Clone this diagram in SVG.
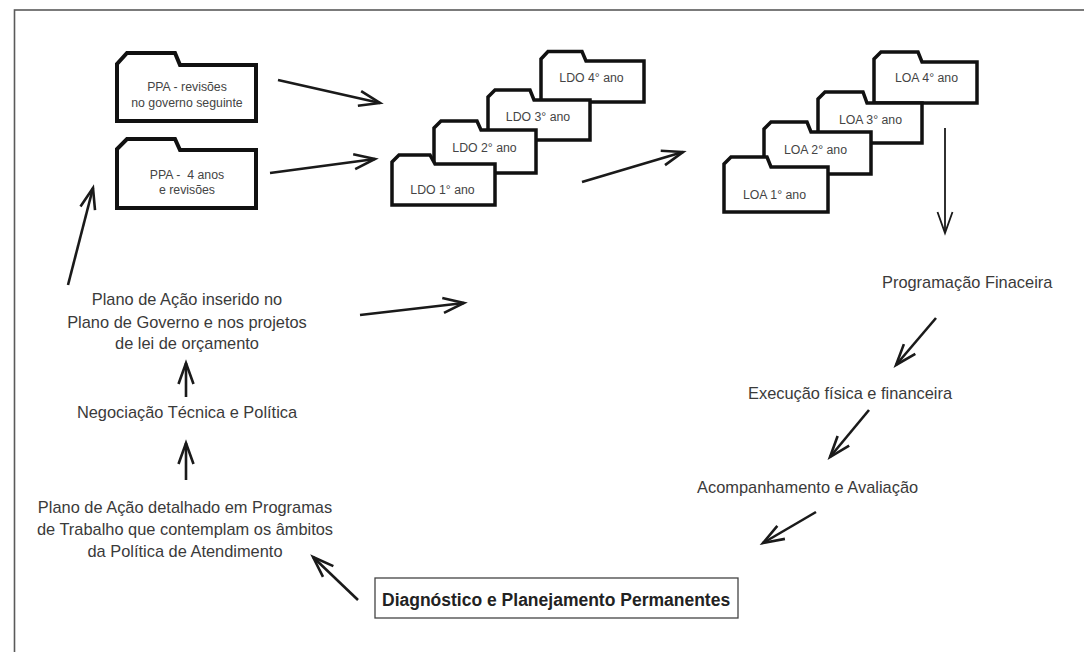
<svg xmlns="http://www.w3.org/2000/svg" width="1084" height="652" viewBox="0 0 1084 652">
<style>
.frame{fill:none;stroke:#5a5a5a;stroke-width:1.6}
.fold{fill:#fff;stroke:#111;stroke-width:3.5;stroke-linejoin:miter}
.ppa{stroke-width:4}
.ft{font-family:"Liberation Sans",Arial,sans-serif;font-size:12.3px;fill:#444;text-anchor:middle}
.t{font-family:"Liberation Sans",Arial,sans-serif;font-size:16.4px;fill:#3a3a3a}
.c{text-anchor:middle}
.b{font-family:"Liberation Sans",Arial,sans-serif;font-size:17.5px;font-weight:bold;fill:#222}
.box{fill:#fff;stroke:#444;stroke-width:1.3}
.ar{fill:none;stroke:#1a1a1a;stroke-width:2.6;marker-end:url(#h)}
.thin{stroke-width:1.8;marker-end:url(#h2)}
</style>
<defs>
<marker id="h" markerUnits="userSpaceOnUse" orient="auto" refX="0" refY="0" markerWidth="30" markerHeight="30" overflow="visible">
<path d="M-21,-7.5 L0,0 L-21,7.5" fill="none" stroke="#1a1a1a" stroke-width="2.6"/>
</marker>
<marker id="h2" markerUnits="userSpaceOnUse" orient="auto" refX="0" refY="0" markerWidth="30" markerHeight="30" overflow="visible">
<path d="M-21,-7.5 L0,0 L-21,7.5" fill="none" stroke="#1a1a1a" stroke-width="1.8"/>
</marker>
</defs>
<rect width="1084" height="652" fill="#fff"/>
<rect class="frame" x="14.5" y="10" width="1200" height="800"/>

<g id="ppa-revisoes">
<path class="fold ppa" d="M117,121 L117,64 L127,53 L175,53 L180,65 L256,65 L256,121 Z"/>
<text class="ft" x="187" y="91">PPA - revisões</text>
<text class="ft" x="187" y="107">no governo seguinte</text>
</g>
<g id="ppa-4anos">
<path class="fold ppa" d="M117,208 L117,149 L127,139 L175,139 L180,150 L256,150 L256,208 Z"/>
<text class="ft" x="187" y="179" style="white-space:pre">PPA -  4 anos</text>
<text class="ft" x="187" y="194">e revisões</text>
</g>

<g id="ldo4">
<path class="fold" d="M541,102 L541,59 L548,51.5 L582,51.5 L586,61 L644,61 L644,102 Z"/>
<text class="ft" x="591.5" y="82">LDO 4° ano</text>
</g>
<g id="ldo3">
<path class="fold" d="M488,140 L488,97 L495,90 L530,90 L534,100 L590,100 L590,140 Z"/>
<text class="ft" x="538" y="121">LDO 3° ano</text>
</g>
<g id="ldo2">
<path class="fold" d="M434,173 L434,128 L441,121 L477,121 L481,130 L536,130 L536,173 Z"/>
<text class="ft" x="484.5" y="152">LDO 2° ano</text>
</g>
<g id="ldo1">
<path class="fold" d="M392,205 L392,162 L399,155 L430,155 L435,164 L495,164 L495,205 Z"/>
<text class="ft" x="442.5" y="194">LDO 1° ano</text>
</g>

<g id="loa4">
<path class="fold" d="M874,103 L874,59 L881,52 L918,52 L922,62 L977,62 L977,103 Z"/>
<text class="ft" x="926.5" y="82">LOA 4° ano</text>
</g>
<g id="loa3">
<path class="fold" d="M818,143 L818,99 L825,92 L863,92 L867,103 L922,103 L922,143 Z"/>
<text class="ft" x="870.5" y="124">LOA 3° ano</text>
</g>
<g id="loa2">
<path class="fold" d="M764,174 L764,129 L771,122 L807,122 L811,132 L871,132 L871,174 Z"/>
<text class="ft" x="815.5" y="154">LOA 2° ano</text>
</g>
<g id="loa1">
<path class="fold" d="M724,212 L724,164 L731,157 L767,157 L771,167 L828,167 L828,212 Z"/>
<text class="ft" x="774.5" y="199">LOA 1° ano</text>
</g>

<g id="plano-inserido">
<text class="t c" x="187" y="305">Plano de Ação inserido no</text>
<text class="t c" x="187" y="327.5">Plano de Governo e nos projetos</text>
<text class="t c" x="187" y="349">de lei de orçamento</text>
</g>
<g id="negociacao">
<text class="t c" x="187" y="418">Negociação Técnica e Política</text>
</g>
<g id="plano-detalhado">
<text class="t c" x="185" y="513">Plano de Ação detalhado em Programas</text>
<text class="t c" x="185" y="535">de Trabalho que contemplam os âmbitos</text>
<text class="t c" x="185" y="557">da Política de Atendimento</text>
</g>
<g id="programacao">
<text class="t" x="882" y="288">Programação Finaceira</text>
</g>
<g id="execucao">
<text class="t" x="748" y="399">Execução física e financeira</text>
</g>
<g id="acompanhamento">
<text class="t" x="697" y="493">Acompanhamento e Avaliação</text>
</g>
<g id="diagnostico">
<rect class="box" x="375" y="578" width="363" height="40"/>
<text class="b" x="382" y="606">Diagnóstico e Planejamento Permanentes</text>
</g>

<g id="connectors">
<line class="ar" x1="278" y1="80" x2="380" y2="103"/>
<line class="ar" x1="270" y1="173" x2="375" y2="159"/>
<line class="ar" x1="582" y1="182" x2="683" y2="152"/>
<line class="ar thin" x1="945" y1="128" x2="945" y2="233"/>
<line class="ar" x1="936" y1="318" x2="896" y2="365"/>
<line class="ar" x1="869" y1="410" x2="830" y2="457"/>
<line class="ar" x1="816" y1="512" x2="763" y2="543"/>
<line class="ar" x1="358" y1="600" x2="313" y2="557"/>
<line class="ar" x1="186" y1="480" x2="186" y2="443"/>
<line class="ar" x1="186" y1="397" x2="186" y2="363"/>
<line class="ar" x1="68" y1="285" x2="93" y2="188"/>
<line class="ar" x1="360" y1="315" x2="464" y2="303"/>
</g>
</svg>
